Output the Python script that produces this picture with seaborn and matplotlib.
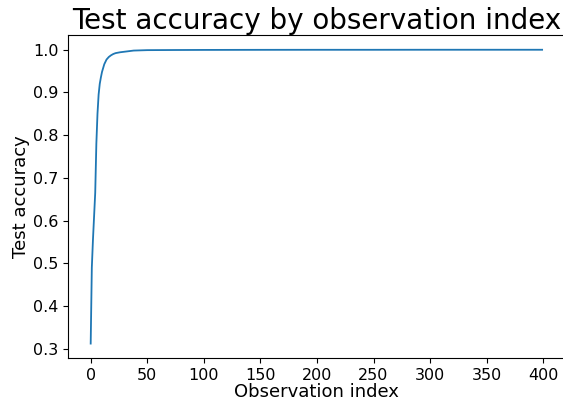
import matplotlib
matplotlib.use("Agg")
import matplotlib.pyplot as plt
import seaborn as sns
import pandas as pd

# values
obs_index = [0, 1, 2, 3, 4, 5, 6, 7, 8, 9, 10, 12, 14, 16, 18, 20, 22, 26,
             32, 38, 50, 75, 100, 150, 200, 250, 300, 350, 399]
test_accuracy = [0.312, 0.49, 0.555, 0.61, 0.665, 0.78, 0.85, 0.895, 0.92,
                 0.935, 0.948, 0.966, 0.977, 0.983, 0.987, 0.990, 0.992,
                 0.994, 0.996, 0.998, 0.999, 0.9993, 0.9995, 0.9997, 0.9998,
                 0.9998, 0.9999, 0.9999, 0.9999]

df = pd.DataFrame({"obs": obs_index, "acc": test_accuracy})

fig, ax = plt.subplots(figsize=(5.63, 4.03), dpi=100)
fig.subplots_adjust(left=0.121, right=1.003, top=0.913, bottom=0.111)

sns.lineplot(data=df, x="obs", y="acc", ax=ax, color="#1f77b4", linewidth=1.3)

ax.set_title("Test accuracy by observation index", fontsize=20, pad=0.5)
ax.set_xlabel("Observation index", fontsize=13, labelpad=0)
ax.set_ylabel("Test accuracy", fontsize=13, labelpad=2)
ax.tick_params(labelsize=11.5)
ax.set_xticks([0, 50, 100, 150, 200, 250, 300, 350, 400])

fig.savefig("out.png", dpi=100)
